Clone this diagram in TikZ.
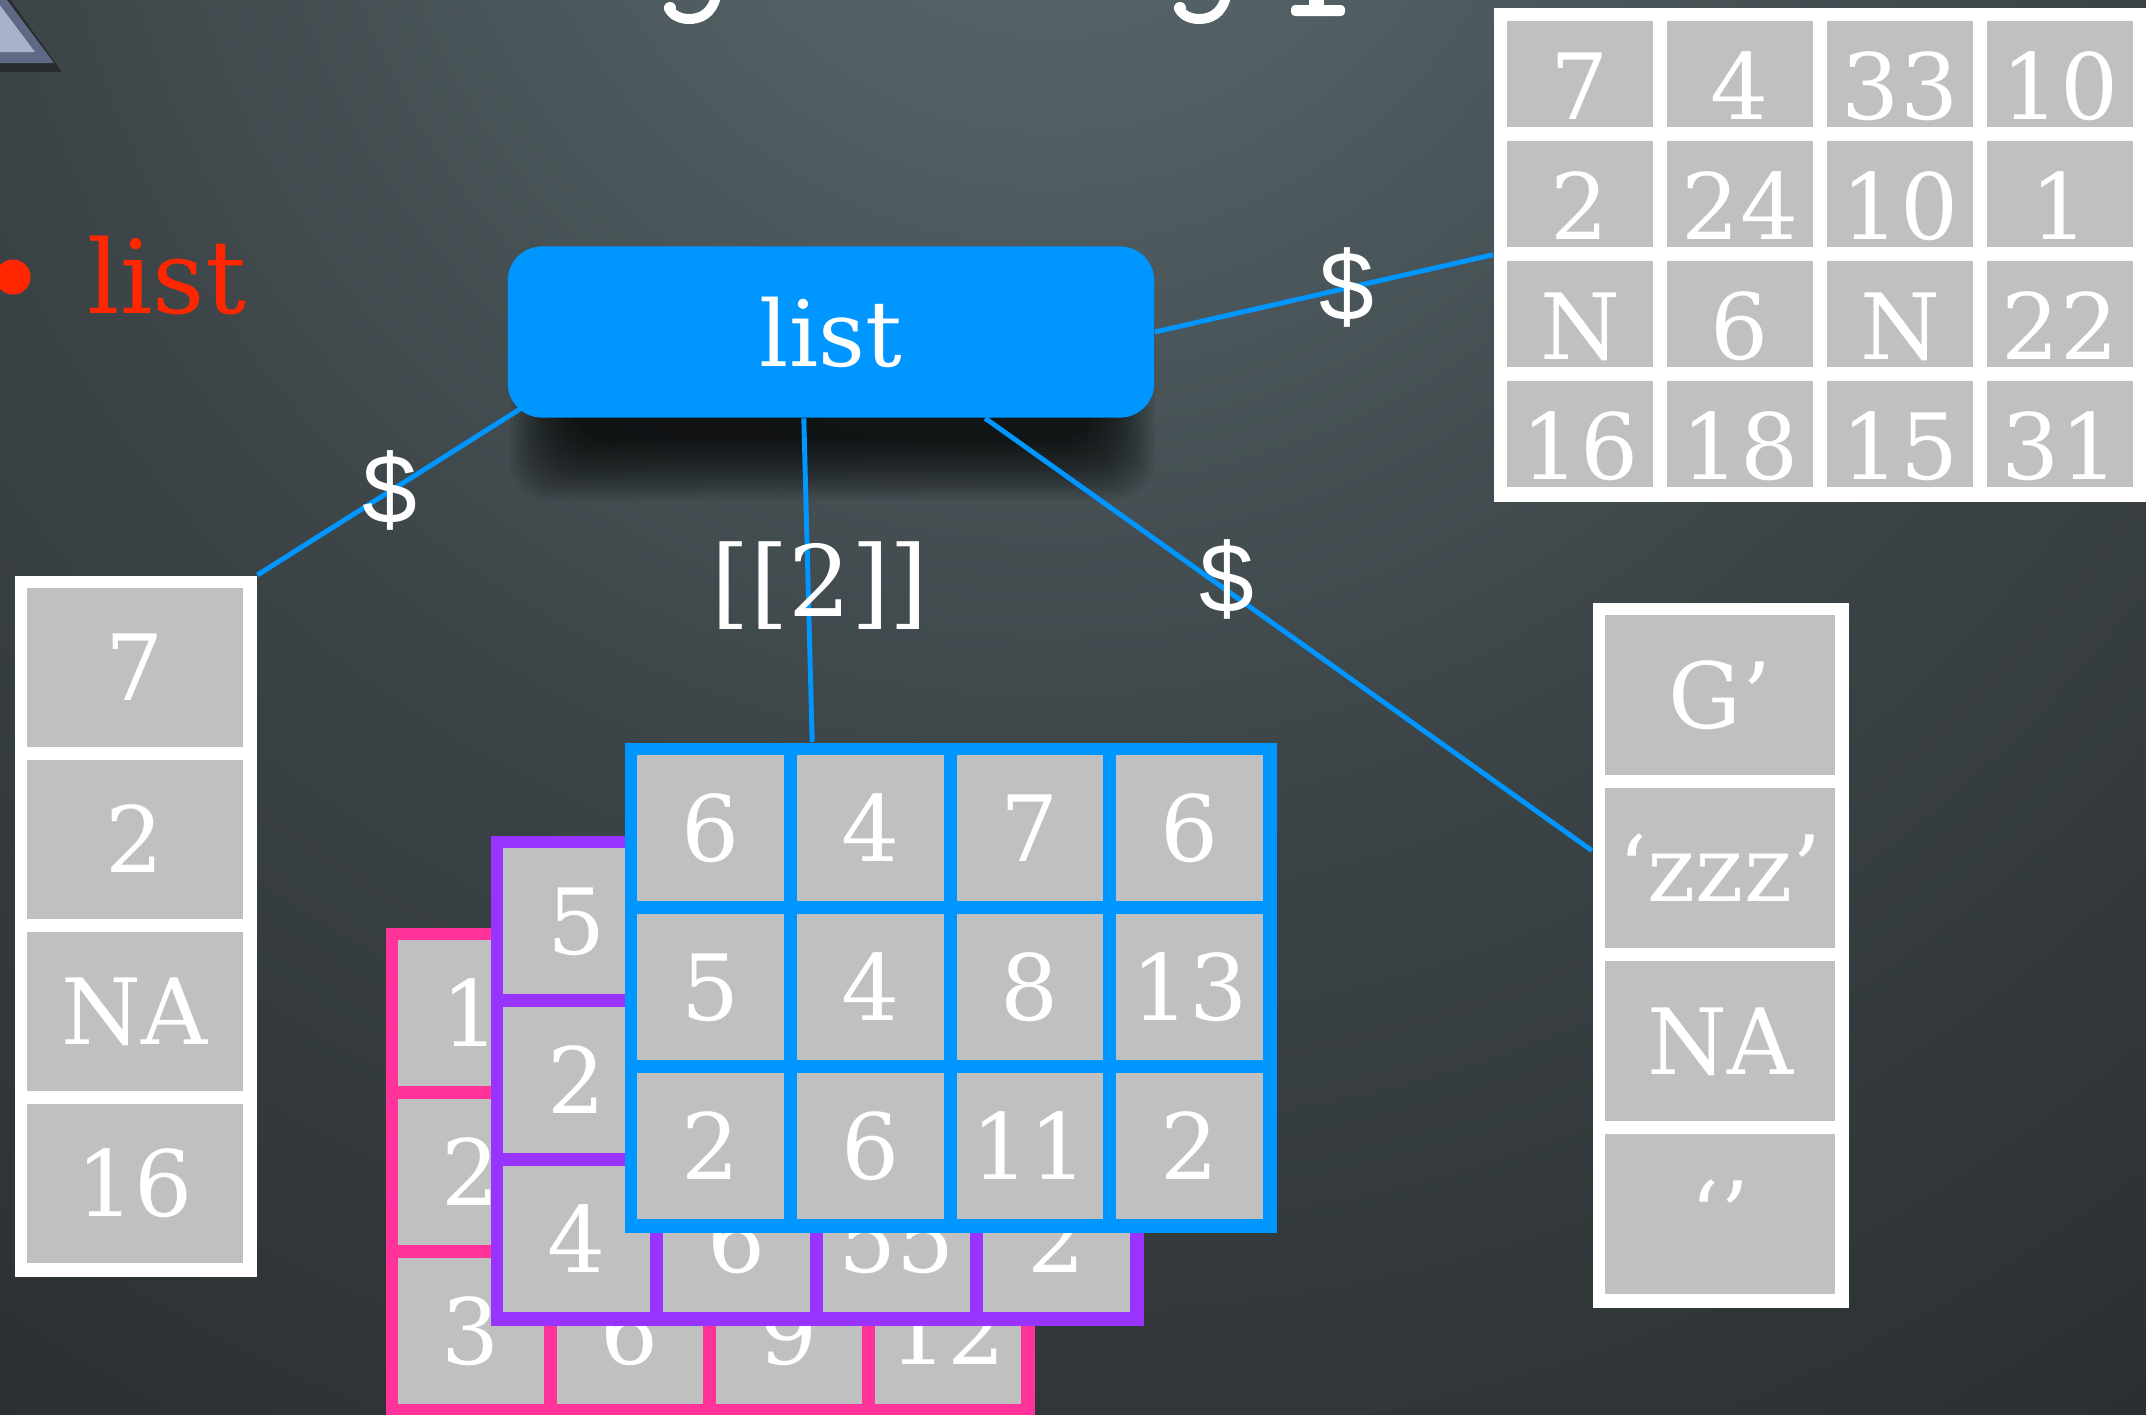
\documentclass[tikz,border=0pt]{standalone}
\usepackage{fontspec}
\setmainfont{DejaVu Serif}
\newfontfamily\dollarfont{Liberation Sans}
\usetikzlibrary{calc}
\definecolor{bgA}{HTML}{5C6C71}
\definecolor{bgB}{HTML}{3D4548}
\definecolor{bgD}{HTML}{26292B}
\definecolor{bgC}{HTML}{1B1C1E}
\definecolor{cellgray}{HTML}{C0C0C0}
\definecolor{rblue}{HTML}{0096FF}
\definecolor{rpurple}{HTML}{9933FF}
\definecolor{rpink}{HTML}{FF3399}
\definecolor{rred}{HTML}{FF2600}
\definecolor{tribevel}{HTML}{5F6885}
\definecolor{triface}{HTML}{A9B2CA}
\pgfdeclarelayer{under}
\pgfsetlayers{under,main}
\pgfdeclareradialshading{bgshade}{\pgfpoint{0bp}{0bp}}{color(0bp)=(bgA); color(13bp)=(bgB); color(28bp)=(bgD); color(50bp)=(bgC)}
\newcommand\setgrid[5]{\def\gx{#1}\def\gy{#2}\def\gqx{#3}\def\gqy{#4}\def\gb{#5}}
\tikzset{
  cellbox/.style={rectangle, fill=cellgray, inner sep=0pt, text=white,
    font=\fontsize{26}{30}\selectfont, text height=0.667cm, text depth=0cm,
    minimum width={(\gqx-\gb)*0.01cm}, minimum height={(\gqy-\gb)*0.01cm}},
  framebox/.style={rectangle, inner sep=0pt, anchor=north west},
  link/.style={draw=rblue, line width=1.4pt},
  dollar/.style={text=white, font=\dollarfont\fontsize{28}{30}\selectfont, inner sep=0pt},
  idxlabel/.style={text=white, font=\fontsize{28}{30}\selectfont, inner sep=0pt},
  listbox/.style={rectangle, rounded corners=0.34cm, fill=rblue, minimum width=6.46cm,
    minimum height=1.71cm, text=white, font=\fontsize{26}{30}\selectfont, inner sep=0pt},
  frag/.style={draw=white, line width=0.1cm, line cap=round}
}
\begin{document}
\begin{tikzpicture}[x=0.01cm,y=-0.01cm]
\useasboundingbox (0,0) rectangle (2146,1414);
\begin{pgfonlayer}{under}
  \begin{scope}
    \clip (0,0) rectangle (2146,1414);
    \fill[bgC] (0,0) rectangle (2146,1414);
    \shade[shading=bgshade] (1050,-250) circle (20cm);
    % soft shadow of the list box
    \foreach \s in {0,3,...,60}
      \fill[black, opacity=0.05, rounded corners=0.4cm] (570-\s,350-\s) rectangle (1095+\s,440+\s);
  \end{scope}
\end{pgfonlayer}

% top-left bevelled triangle
\fill[black, opacity=0.35] (-60,72) -- (62,72) -- (-4,-20) -- (-60,-20) -- cycle;
\fill[tribevel] (-60,63) -- (54,63) -- (-8,-20) -- (-60,-20) -- cycle;
\fill[triface] (-60,52) -- (35,52) -- (-19,-20) -- (-60,-20) -- cycle;

% cut title fragments
\draw[frag] (716,-4) .. controls (712,14) and (700,19) .. (689,19) .. controls (679,19) and (671,14) .. (669,8);
\fill[white] (670,8) circle (0.06cm);
\draw[frag] (1226,-4) .. controls (1222,14) and (1210,19) .. (1199,19) .. controls (1189,19) and (1181,14) .. (1179,8);
\fill[white] (1180,8) circle (0.06cm);
\fill[white] (1309,-2) rectangle (1324,10);
\fill[white, rounded corners=0.04cm] (1291,5) rectangle (1345,16);

% bullet
\fill[rred] (13,277) circle (0.175cm);
\node[anchor=base west, text=rred, font=\fontsize{29}{32}\selectfont, inner sep=0pt] (redlist) at (87,313) {list};

% list box
\node[listbox] (listbox) at (831,332) {list};

% pink matrix
\setgrid{385}{927}{159}{159}{13}
\node[framebox, fill=rpink, minimum width={(4*\gqx+\gb)*0.01cm}, minimum height={(3*\gqy+\gb)*0.01cm}] (pinkmat) at (\gx,\gy) {};
\foreach \c/\r/\t in {1/1/1, 2/1/{}, 3/1/{}, 4/1/{}, 1/2/2, 2/2/{}, 3/2/{}, 4/2/{}, 1/3/3, 2/3/6, 3/3/9, 4/3/12}
  \node[cellbox] (pk-\r-\c) at ({\gx+\gb+(\c-1)*\gqx+(\gqx-\gb)/2},{\gy+\gb+(\r-1)*\gqy+(\gqy-\gb)/2}) {\t};

% purple matrix
\setgrid{490}{835}{160}{159}{13}
\node[framebox, fill=rpurple, minimum width={(4*\gqx+\gb)*0.01cm}, minimum height={(3*\gqy+\gb)*0.01cm}] (purplemat) at (\gx,\gy) {};
\foreach \c/\r/\t in {1/1/5, 2/1/{}, 3/1/{}, 4/1/{}, 1/2/2, 2/2/{}, 3/2/{}, 4/2/{}, 1/3/4, 2/3/6, 3/3/55, 4/3/2}
  \node[cellbox] (pu-\r-\c) at ({\gx+\gb+(\c-1)*\gqx+(\gqx-\gb)/2},{\gy+\gb+(\r-1)*\gqy+(\gqy-\gb)/2}) {\t};

% blue matrix
\setgrid{624}{742}{159.75}{159}{13}
\node[framebox, fill=rblue, minimum width={(4*\gqx+\gb)*0.01cm}, minimum height={(3*\gqy+\gb)*0.01cm}] (bluemat) at (\gx,\gy) {};
\foreach \c/\r/\t in {1/1/6, 2/1/4, 3/1/7, 4/1/6, 1/2/5, 2/2/4, 3/2/8, 4/2/13, 1/3/2, 2/3/6, 3/3/11, 4/3/2}
  \node[cellbox] (bl-\r-\c) at ({\gx+\gb+(\c-1)*\gqx+(\gqx-\gb)/2},{\gy+\gb+(\r-1)*\gqy+(\gqy-\gb)/2}) {\t};

% left vector
\setgrid{14}{575}{229}{172}{13}
\node[framebox, fill=white, minimum width={(\gqx+\gb)*0.01cm}, minimum height={(4*\gqy+\gb)*0.01cm}] (leftvec) at (\gx,\gy) {};
\foreach \r/\t in {1/7, 2/2, 3/NA, 4/16}
  \node[cellbox] (lv-\r) at ({\gx+\gb+(\gqx-\gb)/2},{\gy+\gb+(\r-1)*\gqy+(\gqy-\gb)/2}) {\t};

% right vector
\setgrid{1592}{602}{243}{173}{13}
\node[framebox, fill=white, minimum width={(\gqx+\gb)*0.01cm}, minimum height={(4*\gqy+\gb)*0.01cm}] (rightvec) at (\gx,\gy) {};
\foreach \r/\t in {1/G’, 2/‘zzz’, 3/NA, 4/‘’}
  \node[cellbox] (rv-\r) at ({\gx+\gb+(\gqx-\gb)/2},{\gy+\gb+(\r-1)*\gqy+(\gqy-\gb)/2}) {\t};

% top-right data frame
\setgrid{1493}{7}{160}{120}{14}
\node[framebox, fill=white, minimum width={(4*\gqx+\gb)*0.01cm}, minimum height={(4*\gqy+\gb)*0.01cm}] (toptable) at (\gx,\gy) {};
\foreach \c/\r/\t in {1/1/7, 2/1/4, 3/1/33, 4/1/10, 1/2/2, 2/2/24, 3/2/10, 4/2/1, 1/3/N, 2/3/6, 3/3/N, 4/3/22, 1/4/16, 2/4/18, 3/4/15, 4/4/31}
  \node[cellbox, text height=0.907cm] (tt-\r-\c) at ({\gx+\gb+(\c-1)*\gqx+(\gqx-\gb)/2},{\gy+\gb+(\r-1)*\gqy+(\gqy-\gb)/2}) {\t};

% connectors (under the nodes)
\begin{pgfonlayer}{under}
  \draw[link] ($(listbox.south west)+(30,-20)$) -- (leftvec.north east);
  \draw[link] (listbox.east) -- (toptable.west);
  \draw[link] ($(listbox.south west)!0.738!(listbox.south east)$) -- ($(rightvec.north west)!0.352!(rightvec.south west)$);
  \draw[link] ($(listbox.south west)!0.458!(listbox.south east)$) -- ($(bluemat.north west)!0.288!(bluemat.north east)$);
\end{pgfonlayer}

% connector labels
\node[dollar] (dl) at (390,490) {\$};
\node[dollar] (dr) at (1347,287) {\$};
\node[dollar] (dm) at (1227,579) {\$};
\node[idxlabel] (ix) at (820,586) {[[2]]};
\end{tikzpicture}
\end{document}
